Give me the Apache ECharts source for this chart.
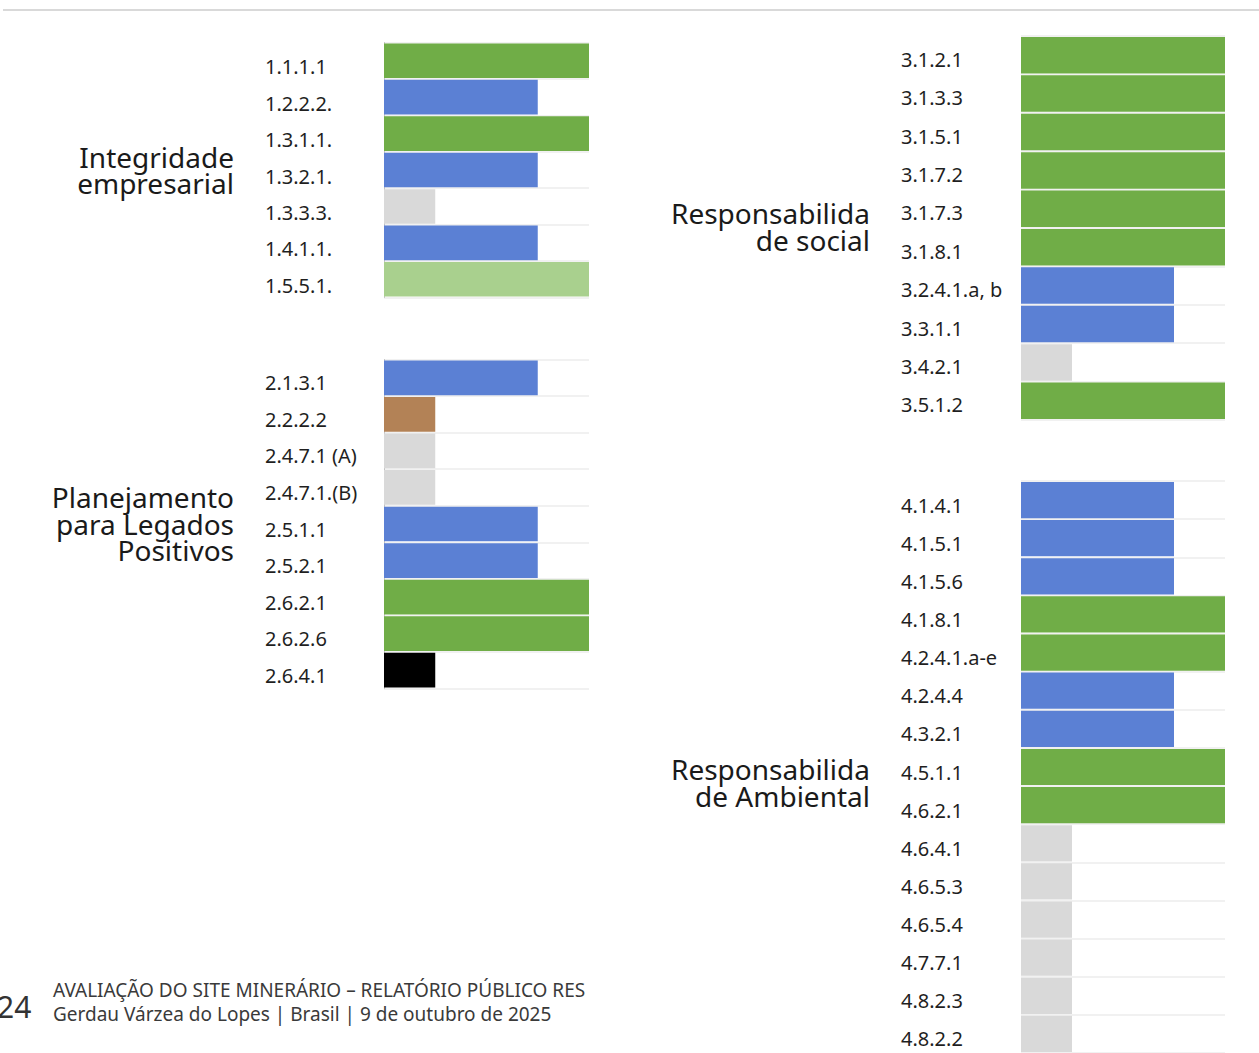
<!DOCTYPE html>
<html>
<head>
<meta charset="utf-8">
<script src="https://cdn.jsdelivr.net/npm/echarts@6/dist/echarts.min.js"></script>
<style>
html,body{margin:0;padding:0;background:#fff;}
#chart{width:1259px;height:1053px;}
</style>
</head>
<body>
<div id="chart"></div>
<script>
// ---- Data ----
const groupNames = [
  ['Integridade', 'empresarial'],
  ['Planejamento', 'para Legados', 'Positivos'],
  ['Responsabilida', 'de social'],
  ['Responsabilida', 'de Ambiental']
];

const p1Categories = ['1.1.1.1', '1.2.2.2.', '1.3.1.1.', '1.3.2.1.', '1.3.3.3.', '1.4.1.1.', '1.5.5.1.'];
const p1Values = [4, 3, 4, 3, 1, 3, 4];
const p1Status = ['verde', 'azul', 'verde', 'azul', 'cinza', 'azul', 'verdeClaro'];

const p2Categories = ['2.1.3.1', '2.2.2.2', '2.4.7.1 (A)', '2.4.7.1.(B)', '2.5.1.1', '2.5.2.1', '2.6.2.1', '2.6.2.6', '2.6.4.1'];
const p2Values = [3, 1, 1, 1, 3, 3, 4, 4, 1];
const p2Status = ['azul', 'marrom', 'cinza', 'cinza', 'azul', 'azul', 'verde', 'verde', 'preto'];

const p3Categories = ['3.1.2.1', '3.1.3.3', '3.1.5.1', '3.1.7.2', '3.1.7.3', '3.1.8.1', '3.2.4.1.a, b', '3.3.1.1', '3.4.2.1', '3.5.1.2'];
const p3Values = [4, 4, 4, 4, 4, 4, 3, 3, 1, 4];
const p3Status = ['verde', 'verde', 'verde', 'verde', 'verde', 'verde', 'azul', 'azul', 'cinza', 'verde'];

const p4Categories = ['4.1.4.1', '4.1.5.1', '4.1.5.6', '4.1.8.1', '4.2.4.1.a-e', '4.2.4.4', '4.3.2.1', '4.5.1.1', '4.6.2.1', '4.6.4.1', '4.6.5.3', '4.6.5.4', '4.7.7.1', '4.8.2.3', '4.8.2.2'];
const p4Values = [3, 3, 3, 4, 4, 3, 3, 4, 4, 1, 1, 1, 1, 1, 1];
const p4Status = ['azul', 'azul', 'azul', 'verde', 'verde', 'azul', 'azul', 'verde', 'verde', 'cinza', 'cinza', 'cinza', 'cinza', 'cinza', 'cinza'];

const footerLine1 = 'AVALIAÇÃO DO SITE MINERÁRIO – RELATÓRIO PÚBLICO RES';
const footerLine2 = 'Gerdau Várzea do Lopes | Brasil | 9 de outubro de 2025';
const pageNumber = '24';

// ---- Styles / layout ----
const statusColors = {
  verde: '#70AD47',
  azul: '#5B80D4',
  cinza: '#D9D9D9',
  verdeClaro: '#A9D08E',
  marrom: '#B38256',
  preto: '#000000'
};
const FONT = '"Noto Sans", "Open Sans", sans-serif';

const panels = [
  { cats: p1Categories, vals: p1Values, status: p1Status, left: 384, width: 205, top: 42.5, height: 255, axisLine: true,
    labelStart: 265, labelShift: 6, groupX: 234, groupY: 170 },
  { cats: p2Categories, vals: p2Values, status: p2Status, left: 384, width: 205, top: 359.5, height: 329, axisLine: true,
    labelStart: 265, labelShift: 5, groupX: 234, groupY: 523.5 },
  { cats: p3Categories, vals: p3Values, status: p3Status, left: 1021, width: 204, top: 36, height: 384, axisLine: false,
    labelStart: 901, labelShift: 4, groupX: 870, groupY: 226.5 },
  { cats: p4Categories, vals: p4Values, status: p4Status, left: 1021, width: 204, top: 481, height: 575, axisLine: false,
    labelStart: 901, labelShift: 5, groupX: 870, groupY: 782.5 }
];
const GROUP_LINE = 26.6;

const chart = echarts.init(document.getElementById('chart'), null, { renderer: 'svg' });

const grids = [], xAxes = [], yAxes = [], series = [], graphics = [];

panels.forEach((p, i) => {
  grids.push({ left: p.left, top: p.top, width: p.width, height: p.height, containLabel: false });
  xAxes.push({ gridIndex: i, type: 'value', min: 0, max: 4, show: false });
  yAxes.push({
    gridIndex: i,
    type: 'category',
    data: p.cats,
    inverse: true,
    axisTick: { show: false },
    axisLine: { show: p.axisLine, lineStyle: { color: '#C4C4C4', width: 1 } },
    splitLine: { show: true, interval: 0, lineStyle: { color: '#EDEDED', width: 1.5 } },
    axisLabel: {
      interval: 0,
      align: 'left',
      verticalAlign: 'top',
      lineHeight: p.labelShift * 2,
      margin: p.left - p.labelStart,
      fontSize: 20,
      fontFamily: FONT,
      color: '#1F1F1F'
    }
  });
  series.push({
    type: 'bar',
    xAxisIndex: i,
    yAxisIndex: i,
    barCategoryGap: '5%',
    silent: true,
    data: p.vals.map((v, j) => ({ value: v, itemStyle: { color: statusColors[p.status[j]] } }))
  });
  const lines = groupNames[i];
  lines.forEach((t, k) => {
    graphics.push({
      type: 'text',
      x: p.groupX,
      y: p.groupY + (k - (lines.length - 1) / 2) * GROUP_LINE,
      style: {
        text: t,
        fontSize: 28,
        fontFamily: FONT,
        fill: '#1A1A1A',
        align: 'right',
        verticalAlign: 'middle'
      }
    });
  });
});

// page top rule
graphics.push({
  type: 'line',
  shape: { x1: 3, y1: 10, x2: 1259, y2: 10 },
  style: { stroke: '#D9D9D9', lineWidth: 2 }
});
// footer
graphics.push({
  type: 'text', x: -3, y: 1006,
  style: { text: pageNumber, fontSize: 30, fontFamily: FONT, fill: '#333333', align: 'left', verticalAlign: 'middle' }
});
graphics.push({
  type: 'text', x: 53, y: 990,
  style: { text: footerLine1, fontSize: 19, fontFamily: FONT, fill: '#3A3A3A', align: 'left', verticalAlign: 'middle',
           width: 566, overflow: 'truncate', ellipsis: '' }
});
graphics.push({
  type: 'text', x: 53, y: 1014,
  style: { text: footerLine2, fontSize: 19, fontFamily: FONT, fill: '#3A3A3A', align: 'left', verticalAlign: 'middle' }
});

chart.setOption({
  animation: false,
  backgroundColor: '#FFFFFF',
  grid: grids,
  xAxis: xAxes,
  yAxis: yAxes,
  series: series,
  graphic: graphics
});
</script>
</body>
</html>
